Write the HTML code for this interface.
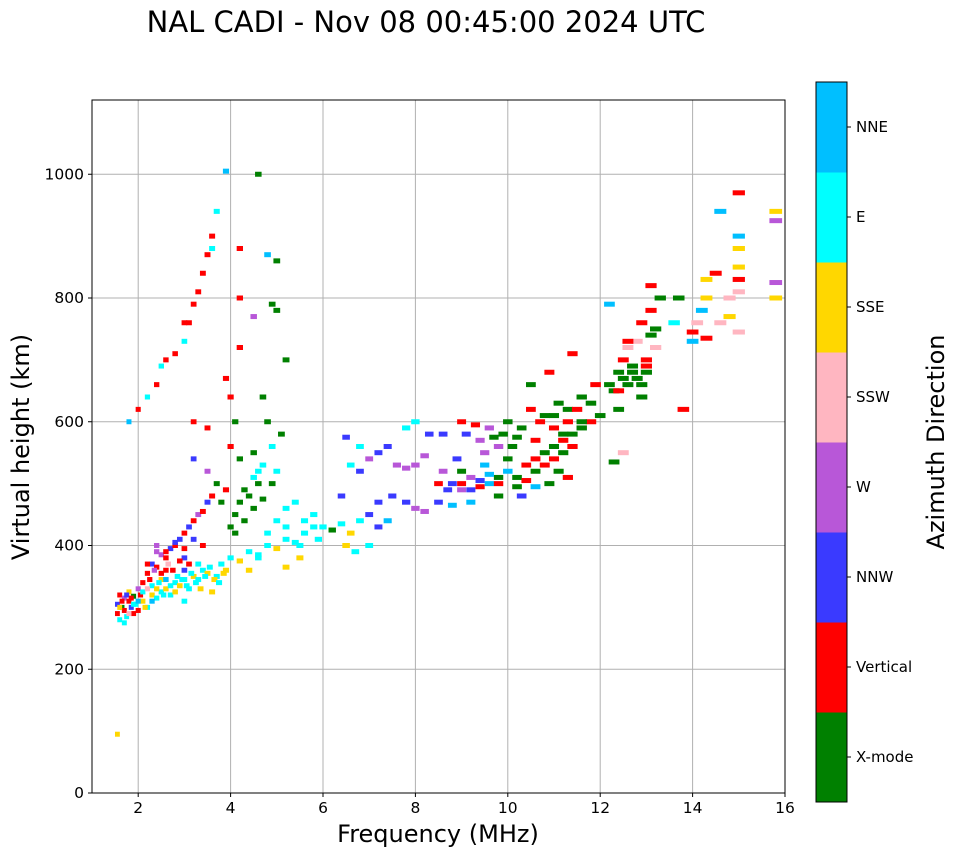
<!DOCTYPE html>
<html><head><meta charset="utf-8"><style>
body{margin:0;background:#fff;font-family:"DejaVu Sans","Liberation Sans",sans-serif}
</style></head><body>
<svg id="chart" width="958" height="857" xmlns="http://www.w3.org/2000/svg" font-family="DejaVu Sans, Liberation Sans, sans-serif">
<text x="426" y="32" font-size="29" text-anchor="middle">NAL CADI - Nov 08 00:45:00 2024 UTC</text>
<g id="grid"></g>
<g id="marks"></g>
<rect x="92" y="100" width="693" height="693" fill="none" stroke="#000" stroke-width="1"/>
<g id="axes"></g>
<text x="438" y="842" font-size="24" text-anchor="middle">Frequency (MHz)</text>
<text transform="translate(29,447) rotate(-90)" font-size="24" text-anchor="middle">Virtual height (km)</text>
<g id="cbar"></g>
<text transform="translate(944,442) rotate(-90)" font-size="24" text-anchor="middle">Azimuth Direction</text>
</svg>
<script>
const xTicks=[2,4,6,8,10,12,14,16];
const yTicks=[0,200,400,600,800,1000];
const dirNames=["X-mode","Vertical","NNW","W","SSW","SSE","E","NNE"];
const dirColors=["#008000","#ff0000","#3a3aff","#b857d8","#ffb6c1","#ffd700","#00ffff","#00bfff"];
const freqs=[1.55,1.55,1.6,1.6,1.65,1.7,1.7,1.75,1.8,1.8,1.85,1.9,1.9,1.95,2.0,2.0,1.55,
2.1,2.2,2.3,2.4,2.5,2.6,2.7,2.8,2.9,3.0,3.1,3.2,3.3,3.4,3.5,3.6,3.7,3.8,3.9,4.0,4.2,4.4,4.6,4.8,5.0,5.2,5.4,5.6,5.8,5.0,5.2,5.4,4.8,5.5,5.2,4.4,3.0,2.5,2.3,3.3,
2.1,2.2,2.3,2.4,2.5,2.6,2.7,2.8,2.9,3.0,3.1,3.2,3.3,3.4,3.5,3.6,3.7,3.8,3.9,4.0,4.1,4.2,4.4,4.6,3.5,3.2,4.0,4.2,4.5,2.6,2.4,3.0,3.4,
1.8,2.0,2.2,2.4,2.5,2.6,2.8,3.0,3.1,3.2,3.3,3.4,3.5,3.6,3.7,3.6,3.9,3.9,4.0,4.1,4.2,4.2,4.2,4.5,4.6,4.8,4.9,5.0,5.0,5.2,4.7,4.8,4.9,5.1,4.6,3.2,3.5,3.0,
6.0,6.2,6.4,6.6,6.8,7.0,7.2,6.5,6.7,7.0,6.4,6.6,6.8,7.0,7.2,7.4,7.6,7.8,8.0,8.2,7.8,8.0,8.3,8.6,7.5,7.8,8.0,8.2,8.5,8.8,8.6,8.7,7.2,7.4,6.8,6.5,
9.0,9.2,9.4,9.6,9.8,10.0,10.2,10.4,10.6,10.8,11.0,11.2,11.4,11.6,11.8,12.0,9.0,9.3,9.6,9.9,10.2,10.5,10.8,11.1,11.3,11.6,11.9,9.5,9.8,10.0,10.3,10.6,10.9,11.1,11.3,10.5,10.9,11.4,9.2,9.8,8.5,9.0,11.6,11.0,
12.3,12.5,12.7,12.9,13.0,12.6,12.8,13.1,12.9,13.1,13.1,13.3,13.0,12.4,12.9,13.6,13.7,14.0,14.1,14.2,14.3,14.3,14.5,14.6,14.8,14.8,15.0,15.0,15.0,15.0,15.0,15.0,14.6,15.0,14.3,15.8,15.8,15.8,15.8,14.0,12.2,12.5,12.3,13.8,
1.6,1.65,1.7,1.75,1.8,1.85,1.9,2.0,2.05,2.1,2.15,2.2,2.25,2.3,2.35,2.4,2.45,2.5,2.55,2.6,2.65,2.7,2.75,2.8,2.85,2.9,2.95,3.0,3.05,3.1,3.15,3.25,3.35,3.45,3.55,3.65,3.75,3.85,2.2,2.4,2.6,2.8,3.0,3.2,
4.1,4.3,4.5,4.7,4.9,4.3,4.5,4.7,5.0,5.2,5.6,5.8,5.9,5.5,4.6,
8.8,9.0,9.2,9.4,9.6,9.8,10.2,10.4,10.6,10.8,11.0,11.2,11.4,9.1,9.4,9.7,10.0,10.3,10.7,11.0,11.3,11.5,11.8,8.9,9.5,10.1,10.6,11.2,
12.2,12.4,12.6,12.8,13.0,12.5,12.7,13.2,13.2,12.6,12.4];
const heights=[290,305,280,320,300,295,315,285,310,325,300,290,318,305,295,330,95,
310,300,320,315,325,330,320,340,335,345,330,350,345,360,355,325,350,370,360,380,375,390,385,400,395,410,405,420,430,440,460,470,420,380,365,360,310,345,335,370,
340,355,370,365,385,380,395,400,410,420,430,440,450,455,470,480,500,470,490,430,450,470,480,500,520,540,560,540,550,360,390,380,400,
600,620,640,660,690,700,710,730,760,790,810,840,870,900,940,880,1005,670,640,600,720,800,880,770,1000,870,790,860,780,700,640,600,560,580,520,600,590,760,
430,425,435,420,440,450,470,400,390,400,480,530,520,540,550,560,530,525,530,545,590,600,580,580,480,470,460,455,470,465,520,490,430,440,560,575,
500,490,495,500,510,520,510,530,540,550,560,570,580,590,600,610,600,595,590,580,575,620,610,630,620,640,660,550,560,540,480,495,500,520,510,660,680,710,470,480,500,520,600,590,
650,670,680,660,700,720,730,740,760,780,820,800,690,620,640,760,800,745,760,780,800,830,840,760,770,800,810,830,850,880,900,970,940,745,735,940,925,825,800,730,790,550,535,620,
300,310,275,320,290,315,305,310,320,325,300,330,345,310,360,330,340,355,320,345,370,335,360,325,350,375,345,360,335,370,355,340,330,350,365,345,340,355,370,400,390,405,395,410,
420,440,460,475,500,490,510,530,520,430,440,450,410,400,380,
500,490,510,505,515,500,495,505,520,530,540,550,560,580,570,575,600,590,600,610,600,620,630,540,530,560,570,580,
660,650,660,670,680,700,690,720,750,730,680];
const dirs=[1,2,6,1,0,1,3,6,1,5,2,1,0,6,1,3,5,
5,6,5,6,6,5,6,6,5,6,6,5,6,6,5,5,6,6,5,6,5,6,6,6,5,6,6,6,6,6,6,6,6,5,5,5,6,5,6,6,
1,1,2,1,3,1,2,1,2,1,2,1,3,1,2,1,0,0,1,0,0,0,0,0,3,2,1,0,0,1,3,2,1,
7,1,6,1,6,1,1,6,1,1,1,1,1,1,6,6,7,1,1,0,1,1,1,3,0,7,0,0,0,0,0,0,6,0,6,1,1,1,
6,0,6,5,6,2,2,5,6,6,2,6,2,3,2,2,3,3,3,3,6,6,2,2,2,2,3,3,2,7,3,2,2,7,6,2,
1,2,1,7,0,7,0,1,1,0,0,1,0,0,1,0,1,1,3,0,0,1,0,0,0,0,1,3,3,0,2,7,0,0,1,0,1,1,7,0,1,0,0,1,
0,0,0,0,1,4,4,0,1,1,1,0,1,0,0,6,0,1,4,7,5,5,1,4,5,4,4,1,5,5,7,1,7,4,1,5,3,3,5,7,7,4,0,1,
5,1,6,2,4,1,6,7,1,6,5,4,1,7,3,5,6,1,6,7,4,6,1,5,6,1,6,2,6,1,6,6,5,6,6,5,6,5,1,3,1,2,1,2,
0,0,0,0,0,0,6,6,6,6,6,6,6,6,6,
2,3,3,2,7,1,0,1,0,1,1,0,1,2,3,0,0,0,1,0,1,1,0,2,7,0,1,0,
0,1,0,0,0,1,0,4,0,1,0];

const NS="http://www.w3.org/2000/svg";
const X0=92,X1=785,Y0=793,Y1=100,FMIN=1,FMAX=16,HMIN=0,HMAX=1120;
function xs(f){return X0+(f-FMIN)/(FMAX-FMIN)*(X1-X0);}
function ys(h){return Y0-(h-HMIN)/(HMAX-HMIN)*(Y0-Y1);}
function mk(tag,attrs,parent){const e=document.createElementNS(NS,tag);for(const k in attrs)e.setAttribute(k,attrs[k]);parent.appendChild(e);return e;}
const grid=document.getElementById('grid'),axes=document.getElementById('axes'),marks=document.getElementById('marks'),cbar=document.getElementById('cbar');
xTicks.forEach(t=>{const x=xs(t);
 const g=mk('line',{x1:x,x2:x,y1:Y1,y2:Y0,stroke:'#b0b0b0','stroke-width':1},grid);
 
 
 mk('line',{x1:x,x2:x,y1:Y0,y2:Y0+4,stroke:'#000'},axes);
 const l=mk('text',{x:x,y:Y0+20,'font-size':15.5,'text-anchor':'middle'},axes);l.textContent=t;
 
 
});
yTicks.forEach(t=>{const y=ys(t);
 const g=mk('line',{x1:X0,x2:X1,y1:y,y2:y,stroke:'#b0b0b0','stroke-width':1},grid);
 
 
 mk('line',{x1:X0-4,x2:X0,y1:y,y2:y,stroke:'#000'},axes);
 const l=mk('text',{x:X0-8,y:y+5,'font-size':15.5,'text-anchor':'end'},axes);l.textContent=t;
 
 
});
for(let i=0;i<freqs.length;i++){
 const w=4+freqs[i]*0.55;
 const r=mk('rect',{x:xs(freqs[i])-w/2,y:ys(heights[i])-2.5,width:w,height:5,fill:dirColors[dirs[i]]},marks);
 
 
}
const CB_X=816,CB_W=31,CB_TOP=82,CB_BOT=802,n=dirNames.length,seg=(CB_BOT-CB_TOP)/n;
dirNames.forEach((nm,i)=>{const y=CB_BOT-(i+1)*seg;
 const r=mk('rect',{x:CB_X,y:y,width:CB_W,height:seg+0.5,fill:dirColors[i]},cbar);
 
 
 mk('line',{x1:CB_X+CB_W,x2:CB_X+CB_W+4,y1:y+seg/2,y2:y+seg/2,stroke:'#000'},cbar);
 mk('line',{x1:CB_X+CB_W-3,x2:CB_X+CB_W,y1:y,y2:y,stroke:'#000'},cbar);
 const l=mk('text',{x:CB_X+CB_W+9,y:y+seg/2+5,'font-size':15},cbar);l.textContent=nm;
 
 
});
mk('rect',{x:CB_X,y:CB_TOP,width:CB_W,height:CB_BOT-CB_TOP,fill:'none',stroke:'#000'},cbar);
</script>
</body></html>
